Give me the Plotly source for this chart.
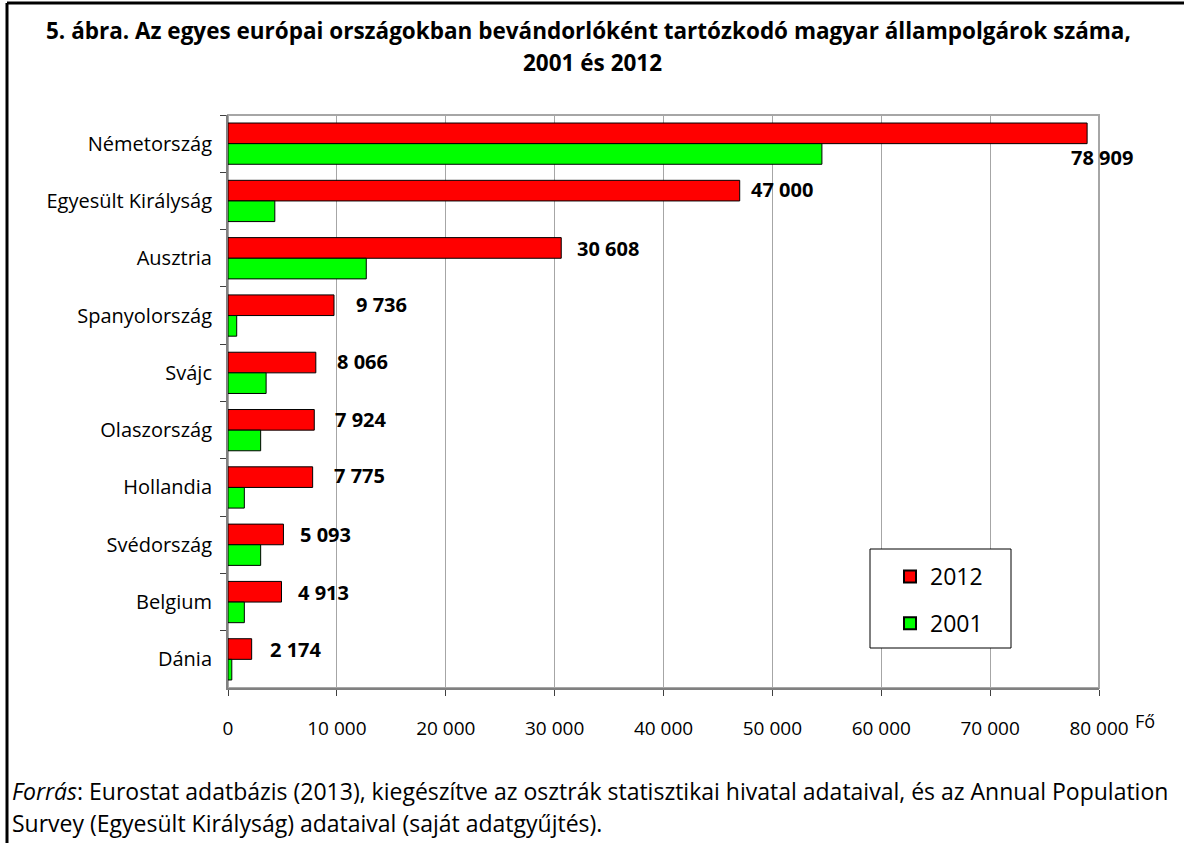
import plotly.graph_objects as go

countries = ["Németország", "Egyesült Királyság", "Ausztria", "Spanyolország", "Svájc",
             "Olaszország", "Hollandia", "Svédország", "Belgium", "Dánia"]
values_2012 = [78909, 47000, 30608, 9736, 8066, 7924, 7775, 5093, 4913, 2174]
values_2001 = [54550, 4300, 12700, 800, 3500, 3000, 1500, 3000, 1500, 350]
x_tickvals = [0, 10000, 20000, 30000, 40000, 50000, 60000, 70000, 80000]
x_ticktext = ["0", "10 000", "20 000", "30 000", "40 000", "50 000", "60 000", "70 000", "80 000"]

title_1 = "5. ábra. Az egyes európai országokban bevándorlóként tartózkodó magyar állampolgárok száma,"
title_2 = "2001 és 2012"
source_1 = "<i>Forrás</i>: Eurostat adatbázis (2013), kiegészítve az osztrák statisztikai hivatal adataival, és az Annual Population"
source_2 = "Survey (Egyesült Királyság) adataival (saját adatgyűjtés)."

FONT = "Open Sans"
W, H = 1184, 843
L, R, T, B = 228, 1099, 115, 688  # plot area in pixels


def px_x(p):
    return (p - L) / (R - L)


def px_y(p):
    return (B - p) / (B - T)


def fmt(v):
    return f"{v:,}".replace(",", " ")


fig = go.Figure()
fig.add_trace(go.Bar(
    y=countries, x=values_2012, orientation="h", name="2012",
    marker=dict(color="#FF0000", line=dict(color="#000000", width=1)),
    legendgroup="a",
))
fig.add_trace(go.Bar(
    y=countries, x=values_2001, orientation="h", name="2001",
    marker=dict(color="#00FF00", line=dict(color="#000000", width=1)),
    legendgroup="b",
))

annotations = []
label_xshift = [-18, 9, 14, 20, 19, 19, 19, 15, 15, 16]
label_yshift = [-14, 11, 10, 11, 11, 11, 12, 10, 10, 10]
for c, v, xs, ys in zip(countries, values_2012, label_xshift, label_yshift):
    annotations.append(dict(
        x=v, y=c, xref="x", yref="y", text=f"<b>{fmt(v)}</b>", showarrow=False,
        xanchor="left", yanchor="middle", xshift=xs, yshift=ys,
        font=dict(family=FONT, size=20, color="#000000"),
    ))

annotations += [
    dict(x=px_x(588), y=px_y(30), xref="paper", yref="paper", text=f"<b>{title_1}</b>",
         showarrow=False, xanchor="center", yanchor="middle",
         font=dict(family=FONT, size=22.5, color="#000000")),
    dict(x=px_x(592), y=px_y(62), xref="paper", yref="paper", text=f"<b>{title_2}</b>",
         showarrow=False, xanchor="center", yanchor="middle",
         font=dict(family=FONT, size=22.5, color="#000000")),
    dict(x=px_x(1133), y=px_y(721), xref="paper", yref="paper", text="Fő",
         showarrow=False, xanchor="left", yanchor="middle",
         font=dict(family=FONT, size=18, color="#000000")),
    dict(x=px_x(10), y=px_y(791), xref="paper", yref="paper", text=source_1,
         showarrow=False, xanchor="left", yanchor="middle",
         font=dict(family=FONT, size=23, color="#000000")),
    dict(x=px_x(10), y=px_y(823), xref="paper", yref="paper", text=source_2,
         showarrow=False, xanchor="left", yanchor="middle",
         font=dict(family=FONT, size=23, color="#000000")),
]

shapes = [
    # outer frame: top and left
    dict(type="line", xref="paper", yref="paper", x0=px_x(7), x1=px_x(1184), y0=px_y(3), y1=px_y(3),
         line=dict(color="#000000", width=3)),
    dict(type="line", xref="paper", yref="paper", x0=px_x(7), x1=px_x(7), y0=px_y(3), y1=px_y(843),
         line=dict(color="#000000", width=3)),
    # legend box
    dict(type="rect", xref="paper", yref="paper", x0=px_x(870), x1=px_x(1011), y0=px_y(549), y1=px_y(648),
         line=dict(color="#000000", width=1), fillcolor="#FFFFFF", layer="above"),
    # gray plot border
    dict(type="rect", xref="paper", yref="paper", x0=0, x1=1, y0=0, y1=1,
         line=dict(color="#A6A6A6", width=2), layer="below"),
]

fig.update_layout(
    width=W, height=H,
    margin=dict(l=L, r=W - R, t=T, b=H - B, pad=0),
    paper_bgcolor="#FFFFFF", plot_bgcolor="#FFFFFF",
    barmode="group", bargap=0.28, bargroupgap=0,
    font=dict(family=FONT, color="#000000"),
    showlegend=True,
    legend=dict(
        x=px_x(890), y=px_y(555), xanchor="left", yanchor="top",
        bgcolor="rgba(0,0,0,0)", borderwidth=0,
        font=dict(family=FONT, size=23, color="#000000"),
        traceorder="grouped", tracegroupgap=14,
        itemsizing="constant",
    ),
    annotations=annotations,
    shapes=shapes,
)

fig.update_xaxes(
    range=[0, 80000], tickvals=x_tickvals, ticktext=x_ticktext,
    showgrid=True, gridcolor="#A6A6A6", gridwidth=1,
    showline=True, linecolor="#808080", linewidth=2, mirror=False,
    ticks="outside", ticklen=6, tickcolor="#404040", tickwidth=1,
    ticklabelstandoff=16,
    tickfont=dict(family=FONT, size=19, color="#000000"),
    zeroline=False,
)
fig.update_yaxes(
    autorange=False, range=[9.5, -0.5], type="category",
    showline=True, linecolor="#808080", linewidth=2,
    ticks="outside", ticklen=6, tickcolor="#404040", tickson="boundaries",
    ticklabelstandoff=10,
    tickfont=dict(family=FONT, size=20, color="#000000"),
    showgrid=False,
)

fig.write_html("out.html")
